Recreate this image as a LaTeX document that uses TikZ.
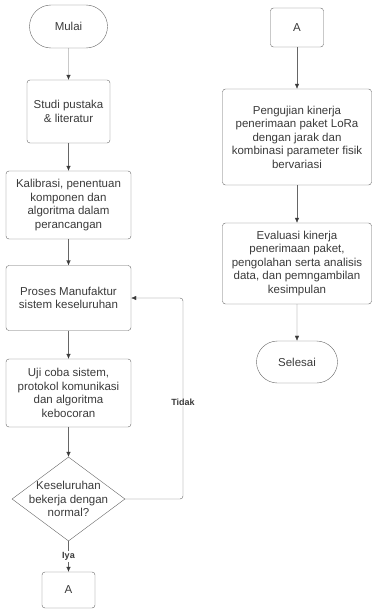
\documentclass[tikz,border=0pt]{standalone}
\usepackage{fontspec}
\setmainfont{Liberation Sans}
\usetikzlibrary{arrows.meta,shapes.geometric,shapes.misc}
\definecolor{linegray}{HTML}{666666}
\definecolor{textgray}{HTML}{3A3A3A}

\begin{document}
\begin{tikzpicture}[x=1pt,y=-1pt,
    font=\fontsize{11.5}{13.5}\selectfont,text=textgray,
    box/.style={rectangle,rounded corners=3pt},
    term/.style={rounded rectangle},
    decision/.style={diamond,inner sep=0pt},
    lbl/.style={fill=white,inner sep=1pt,font=\fontsize{9}{10}\bfseries}]

        \useasboundingbox (0,0) rectangle (372,610);

        \begin{scope}[every node/.style={draw=linegray,align=center,inner sep=2pt}]
          \node[term,minimum width=82,minimum height=43] (mulai) at (68.5,26.5) {Mulai};
          \node[box,minimum width=83,minimum height=63] (studi) at (68.5,111.5) {Studi pustaka\\\& literatur};
          \node[box,minimum width=125,minimum height=68] (kalib) at (68.5,205) {Kalibrasi, penentuan\\komponen dan\\algoritma dalam\\perancangan};
          \node[box,minimum width=125,minimum height=65] (proses) at (68.5,298) {Proses Manufaktur\\sistem keseluruhan};
          \node[box,minimum width=125,minimum height=68] (uji) at (68.5,393) {Uji coba sistem,\\protokol komunikasi\\dan algoritma\\kebocoran};
          \node[decision,minimum width=113,minimum height=84,
                label={[draw=none,align=center]center:Keseluruhan\\bekerja dengan\\normal?}] (cek) at (68.5,499) {};
          \node[box,minimum width=53,minimum height=36] (keA) at (68.5,590) {A};
          \node[box,minimum width=53,minimum height=39] (dariA) at (297,27.5) {A};
          \node[box,minimum width=149,minimum height=96] (lora) at (297,137) {Pengujian kinerja\\penerimaan paket LoRa\\dengan jarak dan\\kombinasi parameter fisik\\bervariasi};
          \node[box,minimum width=149,minimum height=81] (evaluasi) at (297,263.5) {Evaluasi kinerja\\penerimaan paket,\\pengolahan serta analisis\\data, dan pemngambilan\\kesimpulan};
          \node[term,minimum width=85,minimum height=42] (selesai) at (297,362) {Selesai};
        \end{scope}

        \coordinate (balik) at (183,402);

        \begin{scope}[every edge/.style={draw=linegray,-{Latex[length=5pt,width=4.5pt,color=textgray]}}]
          \path (mulai)    edge (studi);
          \path (studi)    edge (kalib);
          \path (kalib)    edge (proses);
          \path (proses)   edge (uji);
          \path (uji)      edge (cek);
          \path (cek)      edge node[lbl] (iya) {Iya} (keA);
          \path (dariA)    edge (lora);
          \path (lora)     edge (evaluasi);
          \path (evaluasi) edge (selesai);
        \end{scope}

        \draw[linegray,rounded corners=3pt,-{Latex[length=5pt,width=4.5pt,color=textgray]}]
          (cek.east) -| (balik) |- (proses.east);
        \node[lbl] (tidak) at (balik) {Tidak};

      \end{tikzpicture}
\end{document}
